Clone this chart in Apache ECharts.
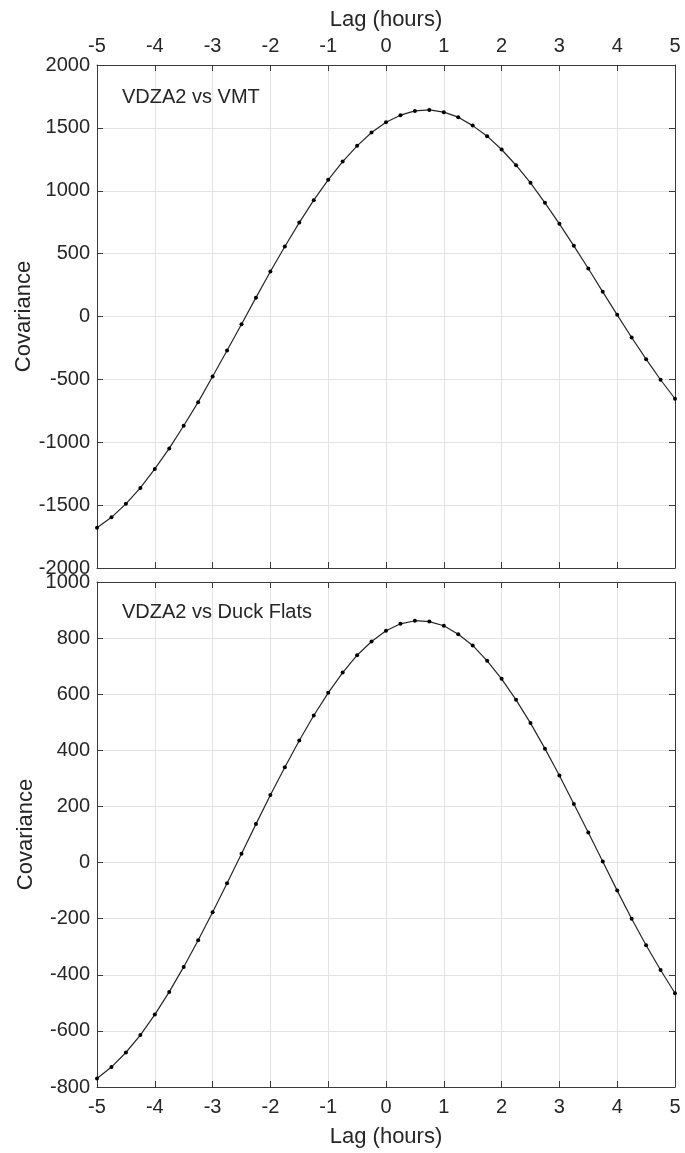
<!DOCTYPE html>
<html>
<head>
<meta charset="utf-8">
<script src="https://cdn.jsdelivr.net/npm/echarts@6/dist/echarts.min.js"></script>
<style>
html,body{margin:0;padding:0;background:#fff;}
#chart{width:685px;height:1153px;}
</style>
</head>
<body>
<div id="chart"></div>
<script>
// Lag values (hours), step 0.25
var lags = [-5,-4.75,-4.5,-4.25,-4,-3.75,-3.5,-3.25,-3,-2.75,-2.5,-2.25,-2,-1.75,-1.5,-1.25,-1,-0.75,-0.5,-0.25,0,0.25,0.5,0.75,1,1.25,1.5,1.75,2,2.25,2.5,2.75,3,3.25,3.5,3.75,4,4.25,4.5,4.75,5];
// VDZA2 vs VMT covariance
var covVMT = [-1680,-1597,-1490,-1363,-1212,-1049,-869,-681,-477,-270,-61,150,358,557,747,925,1087,1232,1357,1463,1545,1601,1635,1643,1625,1585,1518,1434,1328,1203,1063,904,737,562,382,196,13,-167,-339,-503,-654];
// VDZA2 vs Duck Flats covariance
var covDuck = [-770,-729,-677,-615,-542,-461,-372,-277,-177,-74,31,137,241,340,435,524,605,677,739,788,826,851,862,859,844,814,774,719,655,580,497,406,310,209,107,4,-100,-200,-295,-383,-466];
var xTicks = [-5,-4,-3,-2,-1,0,1,2,3,4,5];
var titles = ['VDZA2 vs VMT','VDZA2 vs Duck Flats'];
var xName = 'Lag (hours)';
var yName = 'Covariance';

function pairs(xs, ys){ return xs.map(function(x,i){ return [x, ys[i]]; }); }
function plain(v){ return String(v); }

var FONT = '"Liberation Sans", Arial, Helvetica, sans-serif';
var TXT = '#262626';
var AX = '#3a3a3a';
var GRID = '#e3e3e3';

function xAx(gi, pos, labels, name, nameGap, margin, split){
  return {
    type:'value', gridIndex:gi, position:pos, min:xTicks[0], max:xTicks[xTicks.length-1], interval:1,
    name: name || '', nameLocation:'middle', nameGap: nameGap || 0, nameMoveOverlap:false,
    nameTextStyle:{color:TXT, fontSize:22, fontFamily:FONT},
    axisLine:{show:true, onZero:false, lineStyle:{color:AX, width:1}},
    axisTick:{show:true, inside:true, length:6, lineStyle:{color:AX}},
    axisLabel:{show:labels, color:TXT, fontSize:20, fontFamily:FONT, margin:margin||8, formatter:plain},
    splitLine:{show:split, lineStyle:{color:GRID, width:1}}
  };
}
function yAx(gi, pos, labels, min, max, interval, name, nameGap, split){
  return {
    type:'value', gridIndex:gi, position:pos, min:min, max:max, interval:interval,
    name: name || '', nameLocation:'middle', nameGap:nameGap, nameMoveOverlap:false,
    nameTextStyle:{color:TXT, fontSize:22, fontFamily:FONT},
    axisLine:{show:true, onZero:false, lineStyle:{color:AX, width:1}},
    axisTick:{show:true, inside:true, length:6, lineStyle:{color:AX}},
    axisLabel:{show:labels, color:TXT, fontSize:20, fontFamily:FONT, margin:7, formatter:plain},
    splitLine:{show:split, lineStyle:{color:GRID, width:1}}
  };
}

var chart = echarts.init(document.getElementById('chart'), null, {renderer:'canvas'});
chart.setOption({
  animation:false,
  backgroundColor:'#fff',
  title:[
    {text:titles[0], left:122, top:87, textStyle:{color:TXT, fontSize:20, fontWeight:'normal', fontFamily:FONT}, padding:0},
    {text:titles[1], left:122, top:602, textStyle:{color:TXT, fontSize:20, fontWeight:'normal', fontFamily:FONT}, padding:0}
  ],
  grid:[
    {left:97, top:65, width:578, height:503, show:false},
    {left:97, top:582, width:578, height:505, show:false}
  ],
  xAxis:[
    xAx(0,'top',true,xName,34,9,true),
    xAx(0,'bottom',false,'',0,8,false),
    xAx(1,'bottom',true,xName,39,10,true),
    xAx(1,'top',false,'',0,8,false)
  ],
  yAxis:[
    yAx(0,'left',true,-2000,2000,500,yName,62,true),
    yAx(0,'right',false,-2000,2000,500,'',0,false),
    yAx(1,'left',true,-800,1000,200,yName,60,true),
    yAx(1,'right',false,-800,1000,200,'',0,false)
  ],
  series:[
    {type:'line', xAxisIndex:0, yAxisIndex:0, data:pairs(lags,covVMT), symbol:'circle', symbolSize:4, showAllSymbol:true,
     itemStyle:{color:'#000'}, lineStyle:{color:'#262626', width:1.2}, z:5},
    {type:'line', xAxisIndex:2, yAxisIndex:2, data:pairs(lags,covDuck), symbol:'circle', symbolSize:4, showAllSymbol:true,
     itemStyle:{color:'#000'}, lineStyle:{color:'#262626', width:1.2}, z:5}
  ]
});
</script>
</body>
</html>
